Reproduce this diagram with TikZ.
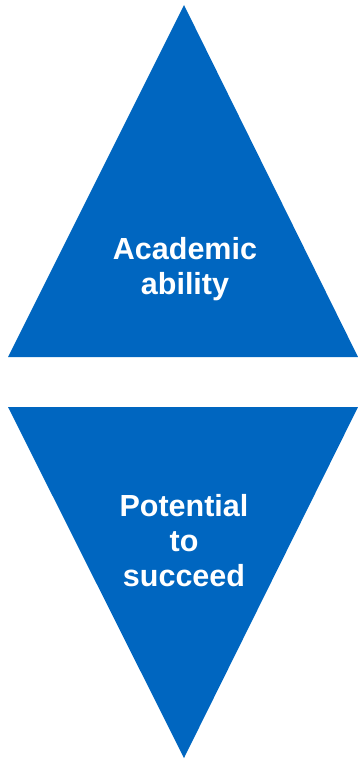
\documentclass[tikz,border=0pt]{standalone}
\usepackage{fontspec}
\setmainfont{Liberation Sans}
\definecolor{boxblue}{RGB}{0,102,192}

\begin{document}
\begin{tikzpicture}[x=1pt,y=-1pt,
    tri/.style={fill=boxblue},
    label/.style={text=white,font=\bfseries\fontsize{30.5}{35}\selectfont,align=center}]
            \useasboundingbox (0,0) rectangle (358,759);
            \fill[tri] (184,5) -- (358,357) -- (8,357) -- cycle;
            \fill[tri] (8,407) -- (358,407) -- (184,758) -- cycle;
            \node[label] (ability) at (185,269) {Academic\\ability};
            \node[label] (potential) at (184,541) {Potential\\to\\succeed};
        \end{tikzpicture}
\end{document}
